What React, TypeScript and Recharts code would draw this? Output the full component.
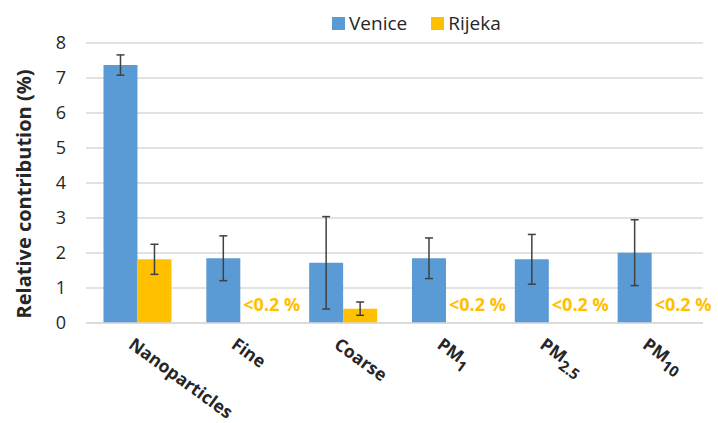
import React from 'react';
import { BarChart, Bar, XAxis, YAxis, CartesianGrid, Legend, ErrorBar, LabelList } from 'recharts';

const categories = ['Nanoparticles', 'Fine', 'Coarse', 'PM1', 'PM2.5', 'PM10'];
const tickMain = ['Nanoparticles', 'Fine', 'Coarse', 'PM', 'PM', 'PM'];
const tickSub = ['', '', '', '1', '2.5', '10'];
const venice = [7.37, 1.85, 1.72, 1.85, 1.82, 2.01];
const veniceErr = [0.29, 0.64, 1.32, 0.58, 0.71, 0.94];
const rijeka = [1.82, 0, 0.41, 0, 0, 0];
const rijekaErr: (number | null)[] = [0.43, null, 0.19, null, null, null];
const rijekaNote = ['', '<0.2 %', '', '<0.2 %', '<0.2 %', '<0.2 %'];
const yTicks = [0, 1, 2, 3, 4, 5, 6, 7, 8];

const data = categories.map((c, i) => ({
  name: c,
  venice: venice[i],
  veniceErr: veniceErr[i],
  rijeka: rijeka[i],
  rijekaErr: rijekaErr[i],
  note: rijekaNote[i],
}));

const FONT = '"Open Sans", sans-serif';
const BLUE = '#5B9BD5';
const GOLD = '#FFC000';
const TEXT = '#262626';

const XTick = (props: any) => {
  const { x, y, index } = props;
  const main = tickMain[index];
  const sub = tickSub[index];
  return (
    <g transform={`translate(${x - 10},${y + 24}) rotate(36)`}>
      <text x={0} y={0} textAnchor="start" fontFamily={FONT} fontWeight="bold" fontSize={17.5} fill={TEXT}>
        {main}
        {sub ? (
          <tspan fontSize={15} dy={6}>{sub}</tspan>
        ) : null}
      </text>
    </g>
  );
};

const NoteLabel = (props: any) => {
  const { x, y, width, height, value } = props;
  if (!value) return null;
  return (
    <text x={x + width + 3} y={y + height - 12} fontFamily={FONT} fontWeight="bold" fontSize={18} fill={GOLD}>
      {value}
    </text>
  );
};

const LegendContent = () => (
  <div style={{ display: 'flex', alignItems: 'center', fontFamily: FONT, fontSize: 19, color: TEXT, whiteSpace: 'nowrap' }}>
    <span style={{ display: 'inline-block', width: 13, height: 13, background: BLUE, marginRight: 4 }} />
    <span style={{ marginRight: 24 }}>Venice</span>
    <span style={{ display: 'inline-block', width: 13, height: 13, background: GOLD, marginRight: 4 }} />
    <span>Rijeka</span>
  </div>
);

export default function App() {
  return (
    <div style={{ position: 'absolute', left: 0, top: 0, width: 718, height: 423, background: '#fff' }}>
      <BarChart
        width={718}
        height={423}
        data={data}
        margin={{ top: 43, right: 15, left: 0, bottom: 0 }}
        barCategoryGap="17%"
        barGap={0}
      >
        <CartesianGrid vertical={false} stroke="#d9d9d9" strokeWidth={1.5} />
        <XAxis
          dataKey="name"
          height={100}
          interval={0}
          tickLine={false}
          tickSize={0}
          tickMargin={0}
          axisLine={{ stroke: '#d9d9d9', strokeWidth: 1.5 }}
          tick={<XTick />}
        />
        <YAxis
          width={86}
          domain={[0, 8]}
          ticks={yTicks}
          axisLine={false}
          tickLine={false}
          tickSize={0}
          tickMargin={20}
          tick={{ fontFamily: FONT, fontSize: 18, fill: TEXT }}
          label={() => (
            <text
              transform={`translate(23,194) rotate(-90)`}
              textAnchor="middle"
              dominantBaseline="central"
              fontFamily={FONT}
              fontWeight="bold"
              fontSize={20}
              fill={TEXT}
            >
              Relative contribution (%)
            </text>
          )}
        />
        <Legend
          verticalAlign="middle"
          layout="horizontal"
          align="center"
          content={<LegendContent />}
          wrapperStyle={{ left: 332, top: 10, width: 'auto' }}
        />
        <Bar dataKey="venice" name="Venice" fill={BLUE} isAnimationActive={false}>
          <ErrorBar dataKey="veniceErr" width={4} stroke="#404040" strokeWidth={1.5} />
          <LabelList dataKey="note" content={<NoteLabel />} />
        </Bar>
        <Bar dataKey="rijeka" name="Rijeka" fill={GOLD} isAnimationActive={false}>
          <ErrorBar dataKey="rijekaErr" width={4} stroke="#404040" strokeWidth={1.5} />
        </Bar>
      </BarChart>
    </div>
  );
}
